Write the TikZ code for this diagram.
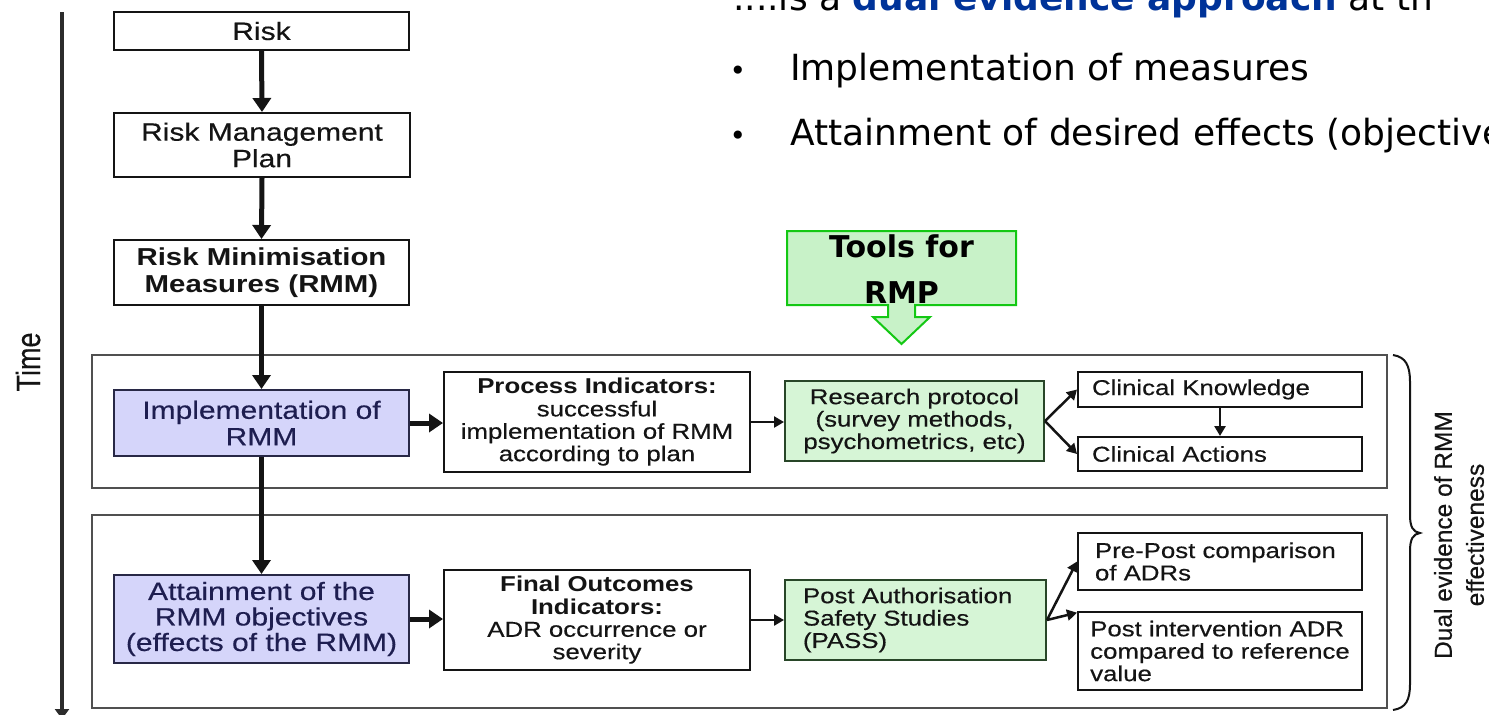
\documentclass[tikz,border=0pt]{standalone}
\usepackage{fontspec}
\usepackage{graphicx}
\usetikzlibrary{arrows.meta}
\newfontfamily\diag{Liberation Sans}[FakeStretch=1.2, UprightFeatures={FakeBold=0.4}]
\newfontfamily\plainsans{Liberation Sans}[FakeBold=0.4]
\newfontfamily\slide{DejaVu Sans}
\definecolor{lav}{RGB}{213,213,250}
\definecolor{lavtxt}{RGB}{30,30,80}
\definecolor{lavdraw}{RGB}{40,40,70}
\definecolor{grn}{RGB}{214,245,214}
\definecolor{grndraw}{RGB}{40,70,40}
\definecolor{toolfill}{RGB}{200,242,200}
\definecolor{tooldraw}{RGB}{20,200,20}
\definecolor{slideblue}{RGB}{0,51,153}
\definecolor{ink}{RGB}{20,20,20}
\definecolor{panelc}{RGB}{80,80,80}
\begin{document}
\begin{tikzpicture}[x=1pt,y=-1pt,
  box/.style={draw=ink, line width=2pt, fill=white, inner sep=0pt, text=ink, align=center},
  lavbox/.style={box, fill=lav, draw=lavdraw, text=lavtxt},
  grnbox/.style={box, fill=grn, draw=grndraw},
  bigtxt/.style={font=\diag\fontsize{25}{26.5}\selectfont},
  bigbold/.style={font=\diag\bfseries\fontsize{24.5}{27}\selectfont},
  smalltxt/.style={font=\diag\fontsize{21.5}{22.4}\selectfont},
  fat/.style={draw=ink, line width=5pt, -{Triangle[width=18pt,length=14pt]}},
  slim/.style={draw=ink, line width=2.5pt, -{Triangle[width=11pt,length=10pt]}},
  panel/.style={draw=panelc, line width=2pt, inner sep=0pt},
  slidetxt/.style={font=\slide\fontsize{36}{40}\selectfont, anchor=base west, inner sep=0pt, text=black},
  bullet/.style={anchor=base, inner sep=0pt, font=\slide\fontsize{28}{30}\selectfont, text=black}
]
\useasboundingbox (0,0) rectangle (1489,715);
\fill[white] (0,0) rectangle (1489,715);
\clip (0,0) rectangle (1489,715);

% slide text
\node[slidetxt] (l0) at (733,10) {....is a \textcolor{slideblue}{\bfseries dual evidence approach} at th};
\node[bullet] (b1) at (738,80) {•};
\node[slidetxt] (l1) at (790,80) {Implementation of measures};
\node[bullet] (b2) at (738,145) {•};
\node[slidetxt] (l2) at (790,145) {Attainment of desired effects (objective};

% time axis
\coordinate (t0) at (62,12);
\coordinate (t1) at (62,719);
\draw[line width=4.5pt, draw=ink!90, -{Triangle[width=14pt,length=10pt]}] (t0) -- (t1);
\node[rotate=90, inner sep=0pt, font=\plainsans\fontsize{27}{30}\selectfont, text=ink] (timelbl) at (28,362) {\scalebox{1}[1.25]{Time}};

% panels
\node[panel, minimum width=1295pt, minimum height=133pt] (pA) at (739.5,421.5) {};
\node[panel, minimum width=1295pt, minimum height=193pt] (pB) at (739.5,611.5) {};

% left column
\node[box, bigtxt, minimum width=295pt, minimum height=38pt] (risk) at (261.5,31) {Risk};
\node[box, bigtxt, minimum width=296pt, minimum height=64pt] (rmp) at (262,145) {Risk Management\\Plan};
\node[box, bigbold, minimum width=295pt, minimum height=65pt] (rmm) at (261.5,272.5) {Risk Minimisation\\Measures (RMM)};
\node[lavbox, bigtxt, minimum width=295pt, minimum height=66pt] (impl) at (261.5,423) {Implementation of\\RMM};
\node[lavbox, font=\diag\fontsize{25}{25.5}\selectfont, minimum width=295pt, minimum height=88pt] (att) at (261.5,619) {Attainment of the\\RMM objectives\\(effects of the RMM)};

% indicators
\node[box, smalltxt, minimum width=306pt, minimum height=100pt] (proc) at (597,422) {{\bfseries Process Indicators:}\\successful\\implementation of RMM\\according to plan};
\node[box, smalltxt, minimum width=306pt, minimum height=100pt] (fin) at (597,620) {{\bfseries Final Outcomes}\\{\bfseries Indicators:}\\ADR occurrence or\\severity};

% green tools
\node[grnbox, smalltxt, minimum width=259pt, minimum height=80pt] (res) at (914.5,421) {Research protocol\\(survey methods,\\psychometrics, etc)};
\node[grnbox, smalltxt, align=left, text width=225pt, minimum width=261pt, minimum height=80pt] (pass) at (915.5,620) {Post Authorisation\\Safety Studies\\(PASS)};

% right boxes
\node[box, smalltxt, align=left, text width=256pt, minimum width=284pt, minimum height=35pt] (ck) at (1220,389.5) {Clinical Knowledge};
\node[box, smalltxt, align=left, text width=256pt, minimum width=284pt, minimum height=34pt] (ca) at (1220,454) {Clinical Actions};
\node[box, smalltxt, align=left, text width=250pt, minimum width=284pt, minimum height=57pt] (pre) at (1220,561.5) {Pre-Post comparison\\of ADRs};
\node[box, smalltxt, align=left, minimum width=284pt, minimum height=78pt] (post) at (1220,651) {Post intervention ADR\\compared to reference\\value};

% tools callout
\draw[fill=toolfill, draw=tooldraw, line width=2pt]
  (787,231) -- (1016,231) -- (1016,305) -- (915,305) -- (915,317) -- (930,317)
  -- (901.5,344) -- (873,317) -- (888,317) -- (888,305) -- (787,305) -- cycle;
\node[font=\slide\bfseries\fontsize{30}{46}\selectfont, align=center, inner sep=0pt, text=black] (tools) at (901.5,269) {Tools for\\RMP};

% brace
\draw[line width=2pt, draw=ink] (1393,355) .. controls (1406,357) and (1410,366) .. (1410,382)
  -- (1410,515) .. controls (1410,527) and (1413,532) .. (1420,533)
  .. controls (1413,534) and (1410,539) .. (1410,551)
  -- (1410,684) .. controls (1410,700) and (1406,708) .. (1393,710);
\node[rotate=90, align=center, inner sep=0pt, font=\plainsans\fontsize{24.5}{32}\selectfont, text=ink] (dual) at (1459,535) {Dual evidence of RMM\\effectiveness};

% connectors
\draw[fat] (risk.south) -- (rmp.north);
\draw[fat] (rmp.south) -- (rmm.north);
\draw[fat] (rmm.south) -- (impl.north);
\draw[fat] (impl.south) -- (att.north);
\draw[fat] (impl.east) -- (impl.east -| proc.west);
\draw[fat] (att.east) -- (att.east -| fin.west);
\draw[slim] (proc.east) -- (proc.east -| res.west);
\draw[slim] (fin.east) -- (fin.east -| pass.west);
\draw[slim] (res.east) -- (ck.west);
\draw[slim] (res.east) -- (ca.west);
\draw[slim] (ck.south) -- (ca.north);
\draw[slim] (pass.east) -- (pre.west);
\draw[slim] (pass.east) -- (post.165);
\end{tikzpicture}
\end{document}
